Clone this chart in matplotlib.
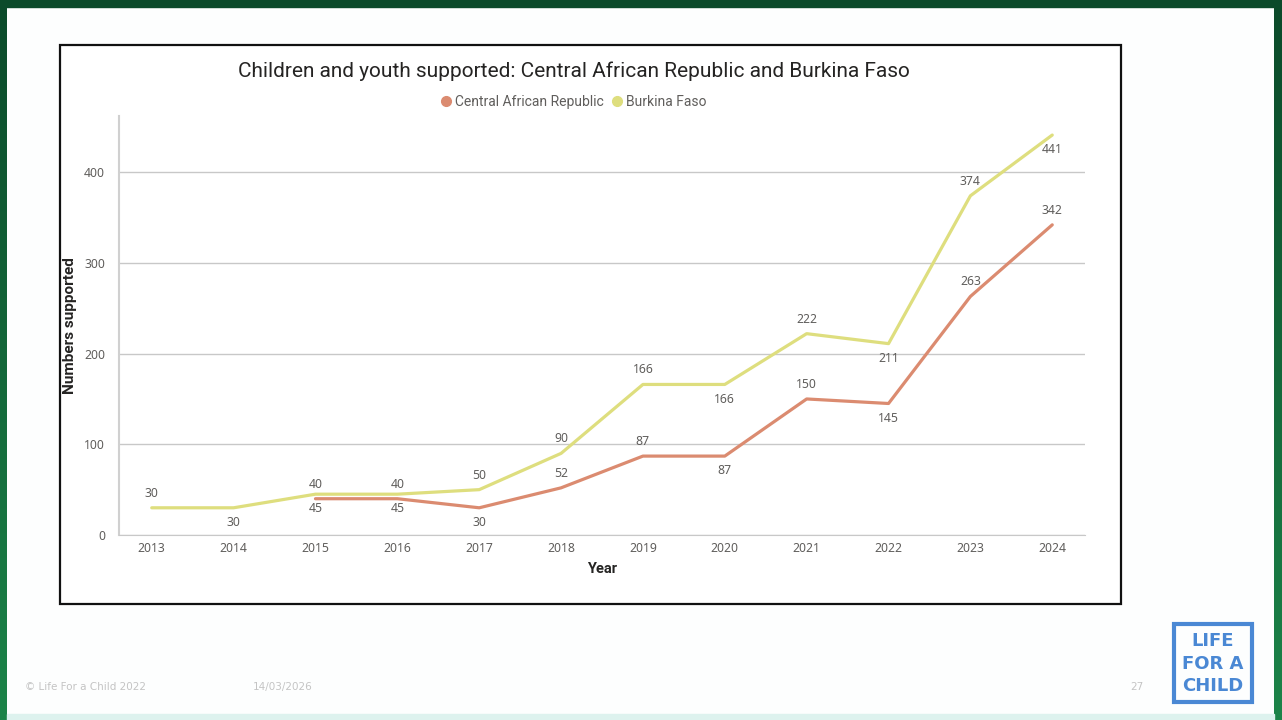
import numpy as np
import matplotlib.pyplot as plt
from matplotlib.patches import Rectangle
from matplotlib.lines import Line2D

# data
years = [2013, 2014, 2015, 2016, 2017, 2018, 2019, 2020, 2021, 2022, 2023, 2024]
car_years = [2015, 2016, 2017, 2018, 2019, 2020, 2021, 2022, 2023, 2024]
car_values = [40, 40, 30, 52, 87, 87, 150, 145, 263, 342]
bf_values = [30, 30, 45, 45, 50, 90, 166, 166, 222, 211, 374, 441]
# label placement (+1 above the point, -1 below), as in the original
car_label_side = [1, 1, -1, 1, 1, -1, 1, -1, 1, 1]
bf_label_side = [1, -1, -1, -1, 1, 1, 1, -1, 1, -1, 1, -1]
y_ticks = [0, 100, 200, 300, 400]

car_color = '#DB8B70'
bf_color = '#DEDE7E'
label_color = '#605E5C'
title_color = '#252423'

W, H = 1282, 720
fig = plt.figure(figsize=(W / 100, H / 100), dpi=100)
fig.patch.set_facecolor('#FDFEFE')

# slide background with green frame
bg = fig.add_axes([0, 0, 1, 1])
bg.set_xlim(0, W)
bg.set_ylim(H, 0)
bg.axis('off')
grad = np.linspace(0, 1, 256).reshape(-1, 1)
cmap = plt.matplotlib.colors.LinearSegmentedColormap.from_list('g', ['#0B4A2A', '#1C8449'])
bg.imshow(grad, extent=(0, 7, H, 0), cmap=cmap, aspect='auto', zorder=1)
bg.imshow(grad, extent=(1274, W, H, 0), cmap=cmap, aspect='auto', zorder=1)
bg.add_patch(Rectangle((0, 0), W, 7, color='#0B4A2A', zorder=2))
bg.add_patch(Rectangle((7, 714), 1267, 6, color='#DDF2EE', zorder=2))
bg.add_patch(Rectangle((60, 45), 1061, 559, facecolor='white', edgecolor='#111111', lw=1.6, zorder=2))

# footer
foot = dict(fontsize=7.5, color='#C4C4C4', family='Liberation Sans Narrow', va='center')
bg.text(25, 687, '\u00a9 Life For a Child 2022', **foot)
bg.text(253, 687, '14/03/2026', **foot)
bg.text(1130, 687, '27', **foot)

# logo
logo_blue = '#4A88D4'
bg.add_patch(Rectangle((1174, 624), 78, 78, facecolor='none', edgecolor=logo_blue, lw=3, zorder=3))
logo_font = dict(color=logo_blue, fontsize=13, fontweight='bold', family='DejaVu Sans Condensed',
                 ha='center', va='center')
bg.text(1213, 641, 'LIFE', **logo_font)
bg.text(1213, 664, 'FOR A', **logo_font)
bg.text(1213, 686, 'CHILD', **logo_font)

# chart
ax = fig.add_axes([119 / W, 1 - 535 / H, (1085 - 119) / W, (535 - 116) / H])
ax.set_facecolor('none')
ax.plot(years, bf_values, color=bf_color, lw=2.3, solid_capstyle='round', zorder=3)
ax.plot(car_years, car_values, color=car_color, lw=2.3, solid_capstyle='round', zorder=4)

for x, v, s in zip(years, bf_values, bf_label_side):
    ax.annotate(str(v), (x, v), xytext=(0, 10.5 * s), textcoords='offset points',
                ha='center', va='center', fontsize=8.8, color=label_color, family='Noto Sans')
for x, v, s in zip(car_years, car_values, car_label_side):
    ax.annotate(str(v), (x, v), xytext=(0, 10.5 * s), textcoords='offset points',
                ha='center', va='center', fontsize=8.8, color=label_color, family='Noto Sans')

ax.set_xlim(2012.6, 2024.4)
ax.set_ylim(0, 462)
ax.set_xticks(years)
ax.set_yticks(y_ticks)
ax.grid(axis='y', color='#C8C8C8', lw=1)
ax.set_axisbelow(True)
for side in ['top', 'right']:
    ax.spines[side].set_visible(False)
ax.spines['left'].set_color('#D0D0D0')
ax.spines['left'].set_linewidth(1.5)
ax.spines['bottom'].set_color('#C8C8C8')
ax.tick_params(length=0, labelsize=8.8, labelcolor=label_color)
ax.tick_params(axis='y', pad=10)
ax.tick_params(axis='x', pad=5)
for lab in ax.get_xticklabels() + ax.get_yticklabels():
    lab.set_family('Noto Sans')

ax.set_xlabel('Year', fontsize=10.5, color=title_color, fontweight='bold', family='Roboto', labelpad=5)
ax.set_ylabel('Numbers supported', fontsize=11, color=title_color, fontweight='bold', family='Roboto', labelpad=5)

fig.text(574 / W, 1 - 71 / H, 'Children and youth supported: Central African Republic and Burkina Faso',
         ha='center', va='center', fontsize=15, color=title_color, family='Roboto', fontweight='normal')

handles = [Line2D([], [], ls='none', marker='o', markersize=7, color=car_color),
           Line2D([], [], ls='none', marker='o', markersize=7, color=bf_color)]
leg = fig.legend(handles, ['Central African Republic', 'Burkina Faso'], loc='center',
                 bbox_to_anchor=(572 / W, 1 - 102 / H), ncol=2, frameon=False,
                 handletextpad=0.0, columnspacing=0.4, handlelength=1.2,
                 prop={'family': 'Roboto', 'size': 10})
for t in leg.get_texts():
    t.set_color(label_color)

fig.savefig('out.png', dpi=100, facecolor=fig.get_facecolor())
